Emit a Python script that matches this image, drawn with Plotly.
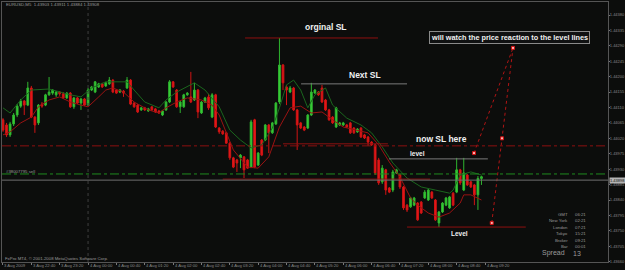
import plotly.graph_objects as go

# ---------------- data ----------------
bars = list(range(136))
opens = [1.44074,1.44059,1.44030,1.44062,1.44088,1.44114,1.44129,1.44117,1.44167,1.44082,
         1.44065,1.44120,1.44117,1.44147,1.44152,1.44147,1.44155,1.44150,1.44138,1.44152,
         1.44112,1.44138,1.44123,1.44135,1.44117,1.44161,1.44155,1.44170,1.44179,1.44173,
         1.44179,1.44190,1.44161,1.44155,1.44158,1.44167,1.44190,1.44123,1.44117,1.44103,
         1.44109,1.44100,1.44112,1.44106,1.44100,1.44088,1.44103,1.44126,1.44185,1.44161,
         1.44112,1.44112,1.44147,1.44141,1.44132,1.44161,1.44094,1.44126,1.44141,1.44082,
         1.44147,1.44050,1.44041,1.44036,1.44006,1.43963,1.43957,1.43963,1.43966,1.43957,
         1.43936,1.44074,1.43942,1.44015,1.44015,1.44059,1.44036,1.44062,1.44126,1.44234,
         1.44170,1.44155,1.44167,1.44103,1.44065,1.44053,1.44050,1.44088,1.44152,1.44155,
         1.44167,1.44132,1.44103,1.44082,1.44053,1.44059,1.44059,1.44059,1.44065,1.44050,
         1.44039,1.44050,1.44030,1.44024,1.44009,1.44001,1.43957,1.43893,1.43928,1.43875,
         1.43869,1.43919,1.43913,1.43878,1.43825,1.43820,1.43825,1.43831,1.43834,1.43846,
         1.43840,1.43863,1.43840,1.43773,1.43805,1.43825,1.43817,1.43860,1.43863,1.43928,
         1.43869,1.43913,1.43893,1.43884,1.43855,1.43903]
highs = [1.44079,1.44065,1.44068,1.44094,1.44120,1.44135,1.44132,1.44185,1.44173,1.44085,
         1.44120,1.44126,1.44150,1.44199,1.44164,1.44158,1.44158,1.44155,1.44155,1.44155,
         1.44141,1.44141,1.44138,1.44138,1.44167,1.44173,1.44187,1.44182,1.44182,1.44185,
         1.44199,1.44193,1.44164,1.44164,1.44161,1.44199,1.44193,1.44126,1.44120,1.44112,
         1.44112,1.44109,1.44114,1.44109,1.44103,1.44103,1.44129,1.44190,1.44187,1.44164,
         1.44129,1.44150,1.44155,1.44214,1.44182,1.44164,1.44129,1.44141,1.44150,1.44152,
         1.44150,1.44053,1.44044,1.44039,1.44009,1.43966,1.43960,1.43974,1.43968,1.43960,
         1.44074,1.44077,1.43980,1.44018,1.44062,1.44062,1.44068,1.44126,1.44313,1.44237,
         1.44176,1.44173,1.44170,1.44106,1.44068,1.44056,1.44091,1.44182,1.44164,1.44158,
         1.44176,1.44135,1.44106,1.44085,1.44112,1.44068,1.44068,1.44062,1.44068,1.44053,
         1.44050,1.44053,1.44033,1.44027,1.44012,1.44004,1.43963,1.43942,1.43931,1.43878,
         1.43928,1.43931,1.43916,1.43881,1.43828,1.43849,1.43849,1.43834,1.43837,1.43869,
         1.43872,1.43866,1.43843,1.43808,1.43834,1.43849,1.43852,1.43863,1.43963,1.43931,
         1.43963,1.43916,1.43896,1.43887,1.43910,1.43911]
lows = [1.44039,1.44024,1.44024,1.44056,1.44082,1.44109,1.44088,1.44114,1.44079,1.44036,
        1.44059,1.44109,1.44114,1.44144,1.44147,1.44141,1.44144,1.44135,1.44135,1.44109,
        1.44106,1.44120,1.44103,1.44114,1.44114,1.44158,1.44152,1.44167,1.44167,1.44170,
        1.44176,1.44152,1.44150,1.44152,1.44141,1.44164,1.44117,1.44109,1.44094,1.44100,
        1.44100,1.44097,1.44100,1.44094,1.44091,1.44085,1.44100,1.44123,1.44167,1.44109,
        1.44094,1.44109,1.44144,1.44123,1.44129,1.44079,1.44091,1.44123,1.44103,1.44079,
        1.44050,1.44033,1.44030,1.44004,1.43957,1.43933,1.43922,1.43933,1.43904,1.43931,
        1.43933,1.43933,1.43939,1.43968,1.44012,1.43977,1.44033,1.44059,1.44120,1.44161,
        1.44117,1.44152,1.44100,1.43986,1.44047,1.44041,1.44047,1.44085,1.44150,1.44144,
        1.44123,1.44100,1.44071,1.44062,1.44050,1.44056,1.44056,1.44050,1.44033,1.44033,
        1.44036,1.44021,1.44018,1.43998,1.43998,1.43913,1.43884,1.43887,1.43855,1.43860,
        1.43863,1.43916,1.43872,1.43811,1.43805,1.43817,1.43822,1.43779,1.43799,1.43843,
        1.43837,1.43843,1.43779,1.43761,1.43802,1.43822,1.43814,1.43822,1.43860,1.43884,
        1.43866,1.43881,1.43875,1.43825,1.43811,1.43884]
closes = [1.44044,1.44030,1.44062,1.44088,1.44114,1.44129,1.44117,1.44167,1.44082,1.44059,
          1.44117,1.44114,1.44147,1.44155,1.44161,1.44155,1.44150,1.44138,1.44152,1.44112,
          1.44138,1.44123,1.44135,1.44117,1.44161,1.44170,1.44185,1.44179,1.44170,1.44182,
          1.44190,1.44155,1.44152,1.44161,1.44152,1.44190,1.44120,1.44112,1.44097,1.44109,
          1.44103,1.44106,1.44103,1.44097,1.44094,1.44100,1.44126,1.44185,1.44170,1.44112,
          1.44126,1.44147,1.44152,1.44126,1.44161,1.44097,1.44126,1.44138,1.44109,1.44147,
          1.44053,1.44039,1.44033,1.44006,1.43963,1.43936,1.43948,1.43971,1.43928,1.43933,
          1.44068,1.43936,1.43977,1.43971,1.44059,1.44036,1.44065,1.44123,1.44234,1.44182,
          1.44161,1.44167,1.44103,1.44059,1.44050,1.44044,1.44088,1.44155,1.44161,1.44147,
          1.44126,1.44103,1.44074,1.44065,1.44109,1.44065,1.44065,1.44053,1.44036,1.44036,
          1.44047,1.44024,1.44021,1.44009,1.44001,1.43919,1.43890,1.43933,1.43869,1.43863,
          1.43922,1.43928,1.43878,1.43817,1.43811,1.43846,1.43846,1.43782,1.43802,1.43863,
          1.43869,1.43846,1.43782,1.43805,1.43831,1.43846,1.43849,1.43825,1.43928,1.43890,
          1.43919,1.43884,1.43878,1.43855,1.43903,1.43908]

# indicator lines (bar index, price)
green_bar = [0,2,5,8,13,19,22,25,29,35,37,40,44,46,49,54,57,61,64,67,70,73,76,78,80,82,84,86,88,91,
             93,97,101,104,107,110,114,118,122,126,127,129,132,135]
green_val = [1.44109,1.44094,1.44132,1.44161,1.44164,1.44147,1.44141,1.44167,1.44185,1.44185,
             1.44161,1.44126,1.44109,1.44132,1.44155,1.44182,1.44161,1.44112,1.44044,1.44015,
             1.43992,1.44001,1.44050,1.44109,1.44176,1.44190,1.44161,1.44109,1.44147,1.44167,
             1.44117,1.44079,1.44059,1.44036,1.43995,1.43948,1.43904,1.43878,1.43869,1.43860,
             1.43869,1.43913,1.43922,1.43913]
red_bar = [0,2,5,8,10,13,16,19,22,24,27,29,31,34,37,41,44,46,49,52,56,59,61,65,69,72,75,78,81,84,
           87,90,93,96,103,106,109,112,115,117,120,123,126,129,130,132,135]
red_val = [1.44030,1.44039,1.44065,1.44082,1.44112,1.44132,1.44141,1.44126,1.44117,1.44112,
           1.44141,1.44161,1.44167,1.44155,1.44126,1.44103,1.44094,1.44109,1.44126,1.44138,
           1.44132,1.44117,1.44088,1.43986,1.43936,1.43933,1.43966,1.44053,1.44109,1.44114,
           1.44094,1.44097,1.44074,1.44053,1.44036,1.44001,1.43951,1.43907,1.43846,1.43825,
           1.43802,1.43790,1.43802,1.43831,1.43855,1.43855,1.43840]

# time axis labels
time_tick_bars = [0,8,16,24,32,40,48,56,64,72,80,88,96,104,112,120,128,136]
time_tick_text = ["3 Aug 2009","3 Aug 22:40","3 Aug 23:20","4 Aug 00:00","4 Aug 00:40","4 Aug 01:20",
                  "4 Aug 02:00","4 Aug 02:40","4 Aug 03:20","4 Aug 04:00","4 Aug 04:40","4 Aug 05:20",
                  "4 Aug 06:00","4 Aug 06:40","4 Aug 07:20","4 Aug 08:00","4 Aug 08:40","4 Aug 09:20"]
price_ticks = [1.43660,1.43705,1.43750,1.43795,1.43840,1.43885,1.43930,1.43975,1.44020,1.44065,
               1.44110,1.44155,1.44200,1.44245,1.44290,1.44335,1.44380]

# drawn objects: horizontal segments (price, start bar, end bar, kind)
seg_price = [1.44313, 1.44179, 1.44004, 1.43960, 1.43761, 1.43901]
seg_start = [68.3, 84.1, 79.0, 108.9, 114.0, 62.0]
seg_end = [105.8, 114.0, 108.6, 136.8, 147.5, 120.5]
seg_kind = ["red", "grey", "red", "grey", "red", "red"]

sl_price = 1.43998
order_price = 1.43916
bid_price = 1.43898
day_separator_bar = 24

trend_a_bar = [132.9, 143.9]
trend_a_val = [1.43977, 1.44284]
trend_b_bar = [137.9, 143.9]
trend_b_val = [1.43773, 1.44284]
point_bar = [132.9, 140.8, 137.9, 143.9]
point_val = [1.43977, 1.44020, 1.43773, 1.44284]

info_labels = ["GMT", "New York", "London", "Tokyo", "Broker", "Bar"]
info_values = ["06:21", "02:21", "07:21", "15:21", "09:21", "00:01"]

# ---------------- figure ----------------
BG = "#0c0d0c"
W, H = 625, 270
L, R, T, B = 2, 17, 2, 8
PLOT_W = W - L - R
PLOT_H = H - T - B

def px(x):
    return (x - L) / PLOT_W

def py(y):
    return 1 - (y - T) / PLOT_H

fig = go.Figure()

fig.add_trace(go.Scatter(x=green_bar, y=green_val, mode="lines",
                         line=dict(color="#1a661d", width=1), hoverinfo="skip"))
fig.add_trace(go.Scatter(x=red_bar, y=red_val, mode="lines",
                         line=dict(color="#9a1212", width=1), hoverinfo="skip"))

fig.add_trace(go.Candlestick(
    x=bars, open=opens, high=highs, low=lows, close=closes,
    increasing=dict(fillcolor="#3ad23a", line=dict(color="#2fb52f", width=1)),
    decreasing=dict(fillcolor="#e8181a", line=dict(color="#d01414", width=1)),
    whiskerwidth=0, hoverinfo="skip"))

seg_colors = {"red": "#8e1010", "grey": "#7a7a7a"}
for p, s, e, k in zip(seg_price, seg_start, seg_end, seg_kind):
    fig.add_shape(type="line", xref="x", yref="y", x0=s, x1=e, y0=p, y1=p,
                  line=dict(color=seg_colors[k], width=1))

# full-width lines
fig.add_shape(type="line", xref="paper", yref="y", x0=0, x1=1, y0=sl_price, y1=sl_price,
              line=dict(color="#8e1010", width=1, dash="dashdot"))
fig.add_shape(type="line", xref="paper", yref="y", x0=0, x1=1, y0=order_price, y1=order_price,
              line=dict(color="#1f8a1f", width=1, dash="dashdot"))
fig.add_shape(type="line", xref="paper", yref="y", x0=0, x1=1, y0=bid_price, y1=bid_price,
              line=dict(color="#6e6e6e", width=1))
fig.add_shape(type="line", xref="x", yref="paper", x0=day_separator_bar, x1=day_separator_bar,
              y0=0, y1=1, line=dict(color="#3e3e3e", width=1, dash="dot"))

fig.add_trace(go.Scatter(x=trend_a_bar, y=trend_a_val, mode="lines",
                         line=dict(color="#b01414", width=1, dash="dot"), hoverinfo="skip"))
fig.add_trace(go.Scatter(x=trend_b_bar, y=trend_b_val, mode="lines",
                         line=dict(color="#b01414", width=1, dash="dot"), hoverinfo="skip"))
fig.add_trace(go.Scatter(x=point_bar, y=point_val, mode="markers",
                         marker=dict(symbol="square", size=3, color="#ffb0b0",
                                     line=dict(color="#d01010", width=1)), hoverinfo="skip"))

ann = []
small = dict(family="Liberation Sans, Arial", size=4.3, color="#9a9a9a")
ann.append(dict(x=px(4), y=py(4.5), xref="paper", yref="paper", xanchor="left", yanchor="middle",
                text="EURUSD,M5  1.43903 1.43911 1.43884 1.43908", showarrow=False, font=small))
ann.append(dict(x=px(4), y=py(171.5), xref="paper", yref="paper", xanchor="left", yanchor="middle",
                text="#38007795 sell", showarrow=False, font=small))
ann.append(dict(x=px(3), y=py(258), xref="paper", yref="paper", xanchor="left", yanchor="middle",
                text="FxPro MT4, © 2001-2008 MetaQuotes Software Corp.", showarrow=False, font=small))

# time labels (left-aligned after each tick, like the terminal draws them)
for b, t in zip(time_tick_bars, time_tick_text):
    ann.append(dict(x=b, y=py(265), xref="x", yref="paper", xanchor="left", yanchor="middle",
                    xshift=0.5, text=t, showarrow=False, borderpad=0,
                    font=dict(family="Liberation Sans, Arial", size=4.2, color="#8a8a8a")))

rows_y = [214, 220.5, 227, 233.5, 240, 246.5]
for lab, val, yy in zip(info_labels, info_values, rows_y):
    ann.append(dict(x=px(570), y=py(yy), xref="paper", yref="paper", xanchor="right", yanchor="middle",
                    text=lab, showarrow=False, font=small))
    ann.append(dict(x=px(573), y=py(yy), xref="paper", yref="paper", xanchor="left", yanchor="middle",
                    text=val, showarrow=False, font=small))
ann.append(dict(x=px(567), y=py(253), xref="paper", yref="paper", xanchor="right", yanchor="middle",
                text="Spread", showarrow=False,
                font=dict(family="Liberation Sans, Arial", size=7, color="#9a9a9a")))
ann.append(dict(x=px(571), y=py(253), xref="paper", yref="paper", xanchor="left", yanchor="middle",
                text="13", showarrow=False,
                font=dict(family="Liberation Sans, Arial", size=7, color="#9a9a9a")))

bold = lambda s: dict(family="Liberation Sans, Arial", size=s, color="#f0f0f0")
ann.append(dict(x=px(325.5), y=py(27), xref="paper", yref="paper", xanchor="center", yanchor="middle",
                text="<b>orginal SL</b>", showarrow=False, font=bold(8.5)))
ann.append(dict(x=px(365), y=py(75), xref="paper", yref="paper", xanchor="center", yanchor="middle",
                text="<b>Next SL</b>", showarrow=False, font=bold(8.5)))
ann.append(dict(x=px(441.5), y=py(139), xref="paper", yref="paper", xanchor="center", yanchor="middle",
                text="<b>now SL here</b>", showarrow=False, font=bold(8.5)))
ann.append(dict(x=px(417.5), y=py(153), xref="paper", yref="paper", xanchor="center", yanchor="middle",
                text="<b>level</b>", showarrow=False, font=bold(6.5)))
ann.append(dict(x=px(459.5), y=py(233), xref="paper", yref="paper", xanchor="center", yanchor="middle",
                text="<b>Level</b>", showarrow=False, font=bold(6.5)))
ann.append(dict(x=px(509.5), y=py(38), xref="paper", yref="paper", xanchor="center", yanchor="middle",
                text="<b>will watch the price reaction to the level lines</b>", showarrow=False,
                font=bold(7.3), bordercolor="#8a8a8a", borderwidth=1, borderpad=1, bgcolor="#101112"))
ann.append(dict(x=px(609), y=bid_price, xref="paper", yref="y", xanchor="left", yanchor="middle",
                text="%.5f" % bid_price, showarrow=False, bgcolor="#b4b4b4", borderpad=0,
                font=dict(family="Liberation Sans, Arial", size=4, color="#111111")))

fig.update_layout(
    width=W, height=H, margin=dict(l=L, r=R, t=T, b=B, autoexpand=False),
    paper_bgcolor=BG, plot_bgcolor=BG, showlegend=False,
    annotations=ann,
    xaxis=dict(range=[-0.28, 170.7], tickvals=time_tick_bars, showticklabels=False,
               ticks="outside", ticklen=2, tickcolor="#777777",
               showgrid=False, zeroline=False, showline=True, linecolor="#555555", mirror=True,
               rangeslider=dict(visible=False), fixedrange=True, automargin=False),
    yaxis=dict(range=[1.43659, 1.44418], side="right", tickvals=price_ticks,
               ticktext=["%.5f" % v for v in price_ticks],
               tickfont=dict(family="Liberation Sans, Arial", size=4, color="#8a8a8a"),
               ticks="outside", ticklen=1, tickcolor="#777777", ticklabelstandoff=-1,
               showgrid=False, zeroline=False, showline=True, linecolor="#555555", mirror=True,
               fixedrange=True, automargin=False),
)

fig.write_html("out.html")
